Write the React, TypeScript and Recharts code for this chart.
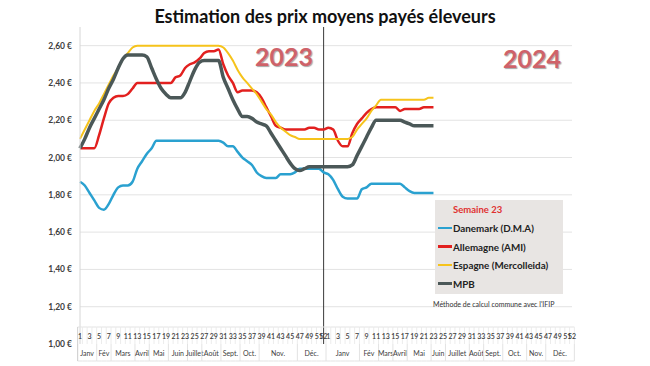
import React from "react";
import { ComposedChart, Line, CartesianGrid, XAxis, YAxis, ReferenceLine } from "recharts";

// weekly prices, €/kg
const DANEMARK_2023 = [1.87, 1.85, 1.81, 1.77, 1.73, 1.72, 1.75, 1.8, 1.84, 1.85, 1.85, 1.87, 1.94, 1.98, 2.02, 2.05, 2.09, 2.09, 2.09, 2.09, 2.09, 2.09, 2.09, 2.09, 2.09, 2.09, 2.09, 2.09, 2.09, 2.09, 2.08, 2.06, 2.06, 2.03, 2.0, 1.98, 1.96, 1.92, 1.9, 1.89, 1.89, 1.89, 1.91, 1.91, 1.91, 1.92, 1.94, 1.94, 1.94, 1.94, 1.94, 1.92];
const DANEMARK_2024 = [1.91, 1.88, 1.83, 1.79, 1.78, 1.78, 1.78, 1.83, 1.84, 1.86, 1.86, 1.86, 1.86, 1.86, 1.86, 1.86, 1.84, 1.82, 1.81, 1.81, 1.81, 1.81, 1.81];

const ALLEMAGNE_2023 = [2.05, 2.05, 2.05, 2.05, 2.12, 2.21, 2.29, 2.32, 2.33, 2.33, 2.34, 2.37, 2.4, 2.4, 2.4, 2.4, 2.4, 2.4, 2.4, 2.4, 2.43, 2.44, 2.48, 2.5, 2.51, 2.53, 2.56, 2.57, 2.57, 2.58, 2.5, 2.44, 2.4, 2.35, 2.36, 2.36, 2.36, 2.35, 2.32, 2.27, 2.22, 2.17, 2.16, 2.15, 2.15, 2.15, 2.15, 2.15, 2.16, 2.16, 2.15, 2.15];
const ALLEMAGNE_2024 = [2.16, 2.15, 2.09, 2.06, 2.06, 2.13, 2.18, 2.21, 2.24, 2.26, 2.27, 2.27, 2.27, 2.27, 2.27, 2.25, 2.26, 2.26, 2.26, 2.26, 2.27, 2.27, 2.27];

const ESPAGNE_2023 = [2.1, 2.15, 2.2, 2.25, 2.29, 2.34, 2.39, 2.44, 2.48, 2.53, 2.56, 2.59, 2.6, 2.6, 2.6, 2.6, 2.6, 2.6, 2.6, 2.6, 2.6, 2.6, 2.6, 2.6, 2.6, 2.6, 2.6, 2.6, 2.6, 2.6, 2.59, 2.56, 2.52, 2.47, 2.43, 2.4, 2.37, 2.34, 2.3, 2.26, 2.23, 2.19, 2.16, 2.14, 2.12, 2.11, 2.1, 2.1, 2.1, 2.1, 2.1, 2.1];
const ESPAGNE_2024 = [2.1, 2.1, 2.1, 2.1, 2.1, 2.11, 2.15, 2.18, 2.21, 2.25, 2.28, 2.31, 2.31, 2.31, 2.31, 2.31, 2.31, 2.31, 2.31, 2.31, 2.31, 2.32, 2.32];

const MPB_2023 = [2.05, 2.1, 2.16, 2.21, 2.26, 2.31, 2.37, 2.42, 2.48, 2.53, 2.55, 2.55, 2.55, 2.55, 2.54, 2.48, 2.42, 2.37, 2.34, 2.32, 2.32, 2.32, 2.35, 2.41, 2.47, 2.51, 2.52, 2.52, 2.52, 2.52, 2.43, 2.37, 2.31, 2.26, 2.22, 2.22, 2.21, 2.19, 2.18, 2.17, 2.13, 2.09, 2.05, 2.01, 1.97, 1.94, 1.93, 1.94, 1.95, 1.95, 1.95, 1.95];
const MPB_2024 = [1.95, 1.95, 1.95, 1.95, 1.95, 1.96, 2.01, 2.06, 2.11, 2.16, 2.2, 2.2, 2.2, 2.2, 2.2, 2.2, 2.19, 2.18, 2.17, 2.17, 2.17, 2.17, 2.17];

const YEARS = [2023, 2024];
const WEEKS = Array.from({ length: 52 }, (_, i) => i + 1);
const MONTHS = ["Janv", "Fév", "Mars", "Avril", "Mai", "Juin", "Juillet", "Août", "Sept.", "Oct.", "Nov.", "Déc."];
// number of weeks grouped under each month label, as in the source table
const MONTH_WEEKS_2023 = [4, 3, 5, 3, 4, 4, 3, 4, 4, 4, 8, 6];
const MONTH_WEEKS_2024 = [7, 4, 3, 3, 5, 3, 5, 3, 4, 5, 4, 6];
const Y_TICKS = [1.0, 1.2, 1.4, 1.6, 1.8, 2.0, 2.2, 2.4, 2.6];

const SERIES = [
  { key: "danemark", name: "Danemark (D.M.A)", color: "#2aa1d0", width: 2.5, v2023: DANEMARK_2023, v2024: DANEMARK_2024 },
  { key: "allemagne", name: "Allemagne (AMI)", color: "#e2201f", width: 2.5, v2023: ALLEMAGNE_2023, v2024: ALLEMAGNE_2024 },
  { key: "espagne", name: "Espagne (Mercolleida)", color: "#f6c31b", width: 2, v2023: ESPAGNE_2023, v2024: ESPAGNE_2024 },
  { key: "mpb", name: "MPB", color: "#4b5858", width: 3.5, v2023: MPB_2023, v2024: MPB_2024 },
];

const monthStarts = (counts: number[]) => {
  const m: Record<number, { label: string; n: number }> = {};
  let w = 1;
  counts.forEach((n, i) => {
    m[w] = { label: MONTHS[i], n };
    w += n;
  });
  return m;
};
const MONTH_START: Record<number, Record<number, { label: string; n: number }>> = {
  2023: monthStarts(MONTH_WEEKS_2023),
  2024: monthStarts(MONTH_WEEKS_2024),
};

const data = YEARS.flatMap((year) =>
  WEEKS.map((week) => {
    const row: any = { key: `${year}-${week}`, year, week };
    SERIES.forEach((s) => {
      const arr = year === 2023 ? s.v2023 : s.v2024;
      row[s.key] = arr[week - 1] ?? null;
    });
    return row;
  })
);

const W = 650;
const H = 366;
const M = { top: 27, right: 78, bottom: 0, left: 0 };
const Y_AXIS_W = 80;
const X_AXIS_H = 22;
const PLOT_W = W - M.left - M.right - Y_AXIS_W;
const PLOT_BOTTOM = H - M.bottom - X_AXIS_H;
const STEP = PLOT_W / data.length;
const TABLE_TOP = PLOT_BOTTOM - 17;
const TABLE_BOTTOM = PLOT_BOTTOM + 17;
const GRID = "#e3e3e3";
const TEXT = "#404040";
const FONT = "Lato, 'Open Sans', sans-serif";

const fmtEuro = (v: number) => v.toFixed(2).replace(".", ",") + " €";

function WeekTick(props: any) {
  const { x, payload } = props;
  const row = data[payload.index];
  if (!row) return null;
  const left = x - STEP / 2;
  const right = x + STEP / 2;
  const month = MONTH_START[row.year][row.week];
  const showWeek = row.week % 2 === 1 || row.week === 52;
  return (
    <g>
      <line x1={left} x2={right} y1={TABLE_TOP} y2={TABLE_TOP} stroke={GRID} />
      <line x1={left} x2={right} y1={TABLE_BOTTOM} y2={TABLE_BOTTOM} stroke={GRID} />
      <line x1={right} x2={right} y1={TABLE_TOP} y2={PLOT_BOTTOM} stroke="#ececec" />
      {showWeek && (
        <text x={x} y={TABLE_TOP + 9} textAnchor="middle" dominantBaseline="central" fontSize={7} fontWeight={600} fill={TEXT} fontFamily={FONT}>
          {row.week}
        </text>
      )}
      {month && (
        <>
          <line x1={left} x2={left} y1={PLOT_BOTTOM} y2={TABLE_BOTTOM} stroke={GRID} />
          <text x={left + (month.n * STEP) / 2} y={PLOT_BOTTOM + 9} textAnchor="middle" dominantBaseline="central" fontSize={7} fill={TEXT} fontFamily={FONT}>
            {month.label}
          </text>
        </>
      )}
      {payload.index === 0 && <line x1={left} x2={left} y1={TABLE_TOP} y2={TABLE_BOTTOM} stroke="#d0d0d0" />}
      {payload.index === data.length - 1 && <line x1={right} x2={right} y1={PLOT_BOTTOM} y2={TABLE_BOTTOM} stroke={GRID} />}
    </g>
  );
}

const yearLabel: React.CSSProperties = {
  position: "absolute",
  fontFamily: FONT,
  fontWeight: 700,
  fontSize: 25,
  lineHeight: "25px",
  color: "#cf6269",
  textShadow: "1px 1px 1px rgba(0,0,0,0.35)",
};

export default function App() {
  return (
    <div style={{ position: "absolute", left: 0, top: 0, width: W, height: H, background: "#fff", fontFamily: FONT }}>
      <div style={{ position: "absolute", left: 0, top: 5, width: W, textAlign: "center", fontWeight: 700, fontSize: 18, color: "#111" }}>
        Estimation des prix moyens payés éleveurs
      </div>

      <ComposedChart width={W} height={H} data={data} margin={M}>
        <CartesianGrid vertical={false} stroke={GRID} horizontalValues={Y_TICKS.slice(1)} />
        <XAxis dataKey="key" height={X_AXIS_H} interval={0} axisLine={false} tickLine={false} tickSize={0} tick={<WeekTick />} />
        <YAxis
          width={Y_AXIS_W}
          domain={[1.0, 2.7]}
          ticks={Y_TICKS}
          tickFormatter={fmtEuro}
          axisLine={{ stroke: "#d6d6d6" }}
          tickLine={false}
          tickSize={0}
          tickMargin={8}
          tick={{ fontSize: 8.5, fontWeight: 700, fill: TEXT, fontFamily: FONT }}
        />
        <ReferenceLine x="2023-52" position="end" stroke="#3a3a3a" strokeWidth={1} />
        {SERIES.map((s) => (
          <Line
            key={s.key}
            type="monotone"
            dataKey={s.key}
            name={s.name}
            stroke={s.color}
            strokeWidth={s.width}
            dot={false}
            activeDot={false}
            isAnimationActive={false}
          />
        ))}
      </ComposedChart>

      <div style={{ ...yearLabel, left: 255, top: 44 }}>2023</div>
      <div style={{ ...yearLabel, left: 503, top: 46 }}>2024</div>

      <div style={{ position: "absolute", left: 435, top: 200, width: 128, height: 94, background: "#e8e5e3" }}>
        <div style={{ position: "absolute", left: 18, top: 4, fontSize: 9.5, fontWeight: 700, color: "#e03131" }}>Semaine 23</div>
        {SERIES.map((s, i) => (
          <div key={s.key} style={{ position: "absolute", left: 3, top: 22 + i * 18.5, display: "flex", alignItems: "center", fontSize: 9.8, fontWeight: 700, color: "#222", whiteSpace: "nowrap" }}>
            <span style={{ display: "inline-block", width: 14, height: 2.5, background: s.color, marginRight: 1 }} />
            {s.name}
          </div>
        ))}
      </div>
      <div style={{ position: "absolute", left: 433, top: 300, fontSize: 7, color: "#333", whiteSpace: "nowrap" }}>
        Méthode de calcul commune avec l'IFIP
      </div>
    </div>
  );
}
